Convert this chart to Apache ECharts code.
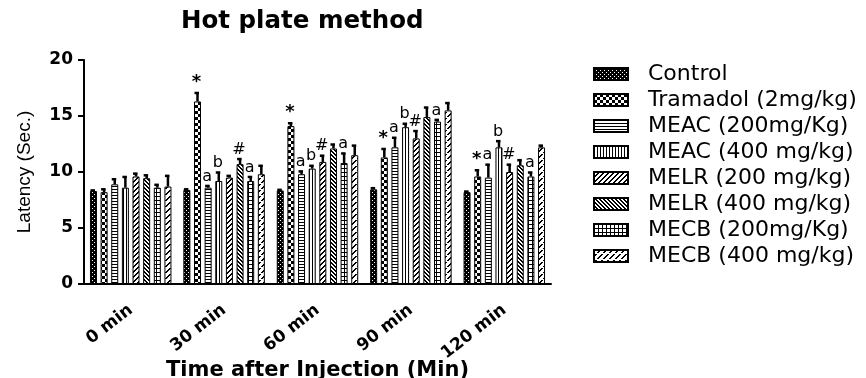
<!DOCTYPE html>
<html>
<head>
<meta charset="utf-8">
<script src="https://cdn.jsdelivr.net/npm/echarts@6/dist/echarts.min.js"></script>
<style>html,body{margin:0;padding:0;background:#fff;}#chart{width:866px;height:378px;}</style>
</head>
<body>
<div id="chart"></div>
<script>
// ---- data ----
const categories = ['0 min', '30 min', '60 min', '90 min', '120 min'];
const seriesNames = ['Control', 'Tramadol (2mg/kg)', 'MEAC (200mg/Kg)', 'MEAC (400 mg/kg)',
  'MELR (200 mg/kg)', 'MELR (400 mg/kg)', 'MECB (200mg/Kg)', 'MECB (400 mg/kg)'];
const yTicks = [0, 5, 10, 15, 20];

const control     = [8.3, 8.4, 8.35, 8.45, 8.2];
const controlErr  = [0.1, 0.1, 0.1, 0.15, 0.1];
const tramadol    = [8.2, 16.3, 14.1, 11.3, 9.6];
const tramadolErr = [0.3, 0.8, 0.3, 0.8, 0.6];
const meac200     = [8.9, 8.6, 9.8, 12.2, 9.5];
const meac200Err  = [0.5, 0.2, 0.3, 0.9, 1.2];
const meac400     = [8.6, 9.2, 10.3, 14.0, 12.2];
const meac400Err  = [1.0, 0.8, 0.3, 0.35, 0.6];
const melr200     = [9.6, 9.5, 10.9, 13.0, 10.0];
const melr200Err  = [0.3, 0.2, 0.6, 0.7, 0.7];
const melr400     = [9.45, 10.7, 12.1, 14.9, 10.6];
const melr400Err  = [0.3, 0.5, 0.4, 0.9, 0.5];
const mecb200     = [8.6, 9.2, 10.8, 14.5, 9.6];
const mecb200Err  = [0.3, 0.4, 0.9, 0.2, 0.4];
const mecb400     = [8.7, 9.8, 11.5, 15.5, 12.2];
const mecb400Err  = [1.0, 0.8, 0.9, 0.7, 0.2];

const controlMark  = ['', '', '', '', ''];
const tramadolMark = ['', '*', '*', '*', '*'];
const meac200Mark  = ['', 'a', 'a', 'a', 'a'];
const meac400Mark  = ['', 'b', 'b', 'b', 'b'];
const melr200Mark  = ['', '', '#', '#', '#'];
const melr400Mark  = ['', '#', '', '', ''];
const mecb200Mark  = ['', 'a', 'a', 'a', 'a'];
const mecb400Mark  = ['', '', '', '', ''];

const means = [control, tramadol, meac200, meac400, melr200, melr400, mecb200, mecb400];
const errs  = [controlErr, tramadolErr, meac200Err, meac400Err, melr200Err, melr400Err, mecb200Err, mecb400Err];
const marks = [controlMark, tramadolMark, meac200Mark, meac400Mark, melr200Mark, melr400Mark, mecb200Mark, mecb400Mark];

// ---- patterns (style) ----
function makePattern(w, h, draw) {
  const c = document.createElement('canvas');
  c.width = w; c.height = h;
  const g = c.getContext('2d');
  g.fillStyle = '#fff'; g.fillRect(0, 0, w, h);
  g.fillStyle = '#000';
  draw(g, w, h);
  return { image: c, repeat: 'repeat' };
}
const patterns = [
  makePattern(4, 4, (g) => { g.fillRect(0,0,4,4); g.fillStyle='#fff'; g.fillRect(0,0,1,1); g.fillRect(2,2,1,1); }),
  makePattern(6, 6, (g) => { g.fillRect(0,0,3,3); g.fillRect(3,3,3,3); }),
  makePattern(4, 3, (g) => { g.fillRect(0,0,4,1); }),
  makePattern(3, 4, (g) => { g.fillRect(0,0,1,4); }),
  makePattern(5, 5, (g) => { for (let i=0;i<5;i++){ g.fillRect(i,4-i,1,1); g.fillRect((i+1)%5,4-i,1,1);} }),
  makePattern(4, 4, (g) => { for (let i=0;i<4;i++){ g.fillRect(i,i,1,1); g.fillRect((i+1)%4,i,1,1);} }),
  makePattern(4, 4, (g) => { g.fillRect(0,0,4,1); g.fillRect(0,0,1,4); }),
  makePattern(6, 6, (g) => { for (let i=0;i<6;i++){ if (i===2) continue; g.fillRect(i,5-i,1,1); g.fillRect((i+1)%6,5-i,1,1);} })
];

const BAR_W = 7, BAR_GAP = 0.52;
const STEP = BAR_W * (1 + BAR_GAP);
const SANS = 'Liberation Sans, Arial, sans-serif';
const WIDE = 'DejaVu Sans, sans-serif';

const series = [];
seriesNames.forEach((name, s) => {
  series.push({
    name: name,
    type: 'bar',
    data: means[s],
    barWidth: BAR_W,
    barGap: (BAR_GAP * 100) + '%',
    itemStyle: { color: patterns[s], borderColor: '#000', borderWidth: 1 },
    emphasis: { disabled: true },
    z: 2
  });
});
seriesNames.forEach((name, s) => {
  const offset = (s - 3.5) * STEP;
  series.push({
    type: 'custom',
    z: 3,
    silent: true,
    data: categories.map((c, i) => [i, means[s][i], errs[s][i]]),
    encode: { x: 0, y: [1, 2] },
    renderItem: function (params, api) {
      const ci = api.value(0), v = api.value(1), e = api.value(2);
      const b = api.coord([ci, v]);
      const t = api.coord([ci, v + e]);
      const x = b[0] + offset;
      const mk = marks[s][params.dataIndex];
      const children = [
        { type: 'line', shape: { x1: x, y1: b[1], x2: x, y2: t[1] }, style: { stroke: '#000', lineWidth: 2.5 } },
        { type: 'line', shape: { x1: x - 3, y1: t[1] + 0.5, x2: x + 1.5, y2: t[1] + 0.5 }, style: { stroke: '#000', lineWidth: 2.5 } }
      ];
      if (mk) {
        children.push({ type: 'text', x: x - 1, y: t[1] - 1,
          style: { text: mk, fill: '#000', font: (mk === '*' ? 'bold 18px ' : '16px ') + WIDE,
                   align: 'center', verticalAlign: 'bottom' } });
      }
      return { type: 'group', children: children };
    }
  });
});

const chart = echarts.init(document.getElementById('chart'), null, { renderer: 'canvas' });
chart.setOption({
  animation: false,
  backgroundColor: '#fff',
  title: {
    text: 'Hot plate method', left: 181, top: 9, padding: 0,
    textStyle: { fontFamily: WIDE, fontSize: 24.5, fontWeight: 'bold', color: '#000' }
  },
  legend: {
    data: seriesNames, orient: 'vertical', left: 593, top: 63, padding: 0,
    itemWidth: 34, itemHeight: 12, itemGap: 4, icon: 'rect',
    textStyle: { fontFamily: WIDE, fontSize: 22, lineHeight: 22, color: '#000', padding: [0, 0, 0, 15] }
  },
  grid: { left: 84, top: 60, width: 467, height: 224, outerBoundsMode: 'none', containLabel: false },
  xAxis: {
    type: 'category', data: categories,
    axisLine: { lineStyle: { color: '#000', width: 2 } },
    axisTick: { alignWithLabel: true, length: 6, lineStyle: { color: '#000', width: 2 } },
    axisLabel: { rotate: 38, fontFamily: WIDE, fontWeight: 'bold', fontSize: 17, color: '#000', margin: 24 },
    name: 'Time after Injection (Min)', nameLocation: 'middle', nameGap: 76, nameMoveOverlap: false,
    nameTextStyle: { fontFamily: WIDE, fontWeight: 'bold', fontSize: 21, color: '#000' }
  },
  yAxis: {
    type: 'value', min: yTicks[0], max: yTicks[yTicks.length - 1], interval: yTicks[1] - yTicks[0],
    axisLine: { show: true, lineStyle: { color: '#000', width: 2 } },
    axisTick: { show: true, length: 6, lineStyle: { color: '#000', width: 2 } },
    splitLine: { show: false },
    axisLabel: { fontFamily: WIDE, fontWeight: 'bold', fontSize: 17, color: '#000', margin: 11 },
    name: 'Latency (Sec.)', nameLocation: 'middle', nameGap: 50, nameMoveOverlap: false,
    nameTextStyle: { fontFamily: SANS, fontSize: 19, color: '#000' }
  },
  series: series
});
</script>
</body>
</html>
